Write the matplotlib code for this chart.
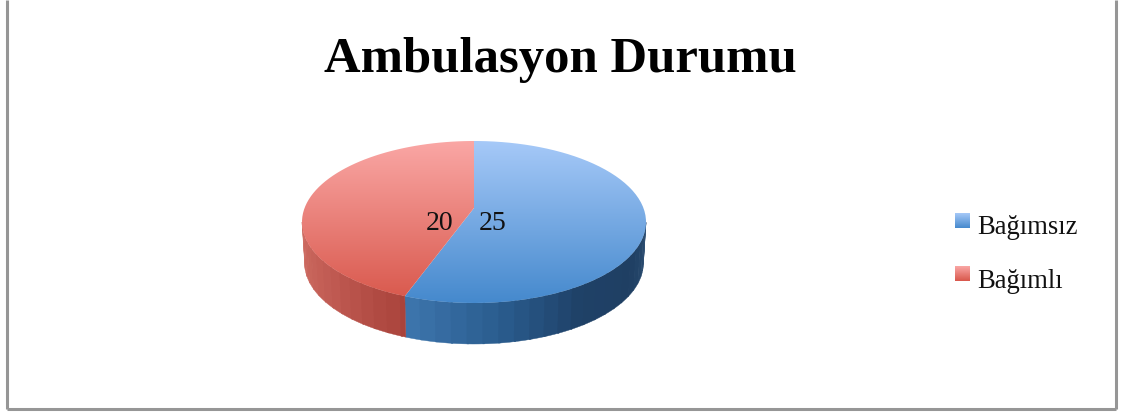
import numpy as np
import matplotlib
matplotlib.use('Agg')
import matplotlib.pyplot as plt
from matplotlib.colors import LinearSegmentedColormap
from matplotlib.patches import PathPatch, Polygon
from matplotlib.path import Path
from matplotlib.transforms import Affine2D

categories = ['Bağımsız', 'Bağımlı']
values = [25, 20]
title = 'Ambulasyon Durumu'

top_colors = [('#a6c9f8', '#4589cd'), ('#faa7a5', '#d8574b')]
side_colors = [['#3c74ab', '#2a5c8e', '#1f4167', '#1f3f63', '#2d4f73'],
               ['#cf6d63', '#c05a52', '#a8423a']]

W, H = 1123, 412
# pixel position of the pie
cx, cy, rx, ry = 474, 222, 172, 81
depth = 41
tilt = 0.173   # perspective, moves the pie centre up

fig = plt.figure(figsize=(W / 100, H / 100), dpi=100)
ax = fig.add_axes([0, 0, 1, 1])
wedges, _ = ax.pie(values, startangle=90, counterclock=False, colors=['none', 'none'])
ax.set_aspect('auto')
ax.set_xlim(-cx / rx, (W - cx) / rx)
ax.set_ylim((cy - H) / ry, cy / ry)
ax.axis('off')


def px(x, y):
    return (x - cx) / rx, (cy - y) / ry


def persp(xy):
    x, y = xy[:, 0], xy[:, 1]
    d = 1 + tilt * y
    return np.column_stack([x * np.sqrt(1 - tilt ** 2) / d, (y + tilt) / d])


def arc(a, b, n=2):
    t = np.radians(np.linspace(a, b, n))
    return persp(np.column_stack([np.cos(t), np.sin(t)]))


def grad(extent, c1, c2, clip=None, zorder=3):
    cmap = LinearSegmentedColormap.from_list('g', [c1, c2])
    im = ax.imshow(np.linspace(0, 1, 256).reshape(-1, 1), cmap=cmap, extent=extent,
                   aspect='auto', origin='upper', zorder=zorder, interpolation='bilinear')
    if clip is not None:
        im.set_clip_path(clip)
    return im


# side wall, faceted like the original
dy = depth / ry
for w, cols in zip(wedges, side_colors):
    a = w.theta1 % 360
    b = a + (w.theta2 - w.theta1)
    # front part of the rim only
    for lo, hi in [(a, b), (a - 360, b - 360)]:
        lo, hi = max(lo, 190), min(hi, 350)
        if hi <= lo:
            continue
        cmap = LinearSegmentedColormap.from_list('s', cols)
        steps = np.arange(lo, hi, 4.5)
        for i, s in enumerate(steps):
            e = min(s + 5, hi)
            edge = arc(s, e, 4)
            low = (edge - [0, dy]) * [0.985, 1]   # bottom rim a bit narrower
            c = cmap((s - lo) / max(hi - lo, 1))
            ax.add_patch(Polygon(np.vstack([edge, low[::-1]]), fc=c, ec=c, lw=0.3, zorder=2))

# top face: gradient clipped to the wedge shapes
for w, (c1, c2) in zip(wedges, top_colors):
    scaled = w.get_patch_transform() + Affine2D().scale(400)
    poly = w.get_path().to_polygons(transform=scaled)[0] / 400
    patch = PathPatch(Path(persp(poly)), fc='none', ec='none', transform=ax.transData)
    ax.add_patch(patch)
    x0, y0 = px(0, cy - ry)
    x1, y1 = px(W, cy + ry)
    grad((x0, x1, y1, y0), c1, c2, clip=patch)

# value labels
for val, x in zip(values, [493, 440]):
    ax.text(*px(x, 223), str(val), ha='center', va='center', fontsize=20,
            family='Liberation Serif', color='#111111', zorder=5)

ax.text(*px(560, 60), title, ha='center', va='center', fontsize=36.5, fontweight='bold',
        family='Liberation Serif', color='black', zorder=5)

# legend
for name, (c1, c2), y in zip(categories, top_colors, [213, 266]):
    x0, y0 = px(955, y)
    x1, y1 = px(970, y + 15)
    grad((x0, x1, y1, y0), c1, c2)
    ax.text(*px(977, y + 12), name, ha='left', va='center_baseline', fontsize=19.2,
            family='Liberation Serif', color='#111111', zorder=5)

# frame has no top edge in the picture
frame = [[(7, 0), (7, 408.5)], [(7, 408.5), (1116, 408.5)], [(1116, 408.5), (1116, 0)]]
for seg in frame:
    ax.plot(*zip(px(*seg[0]), px(*seg[1])), color='#969696', lw=2.2, solid_capstyle='butt', zorder=6)
ax.set_xlim(-cx / rx, (W - cx) / rx)
ax.set_ylim((cy - H) / ry, cy / ry)

fig.savefig('out.png', dpi=100, facecolor='white')
